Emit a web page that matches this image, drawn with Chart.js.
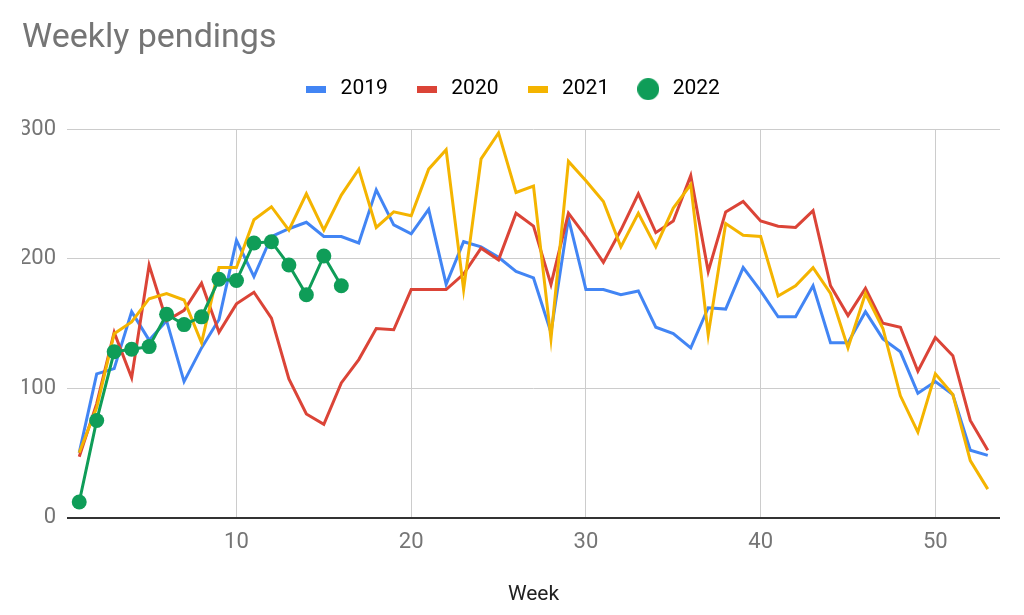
<!DOCTYPE html>
<html>
<head>
<meta charset="utf-8">
<title>Weekly pendings</title>
<script src="https://cdn.jsdelivr.net/npm/chart.js@4.4.0/dist/chart.umd.min.js"></script>
<style>
  html, body { margin: 0; padding: 0; background: #fff; }
  #wrap { width: 1024px; height: 615px; }
</style>
</head>
<body>
<div id="wrap"><canvas id="chart" width="1024" height="615"></canvas></div>
<script>
// week numbers on the x axis
const weeks = [1, 2, 3, 4, 5, 6, 7, 8, 9, 10, 11, 12, 13, 14, 15, 16, 17, 18, 19, 20,
  21, 22, 23, 24, 25, 26, 27, 28, 29, 30, 31, 32, 33, 34, 35, 36, 37, 38, 39, 40,
  41, 42, 43, 44, 45, 46, 47, 48, 49, 50, 51, 52, 53];

// values
const pend2019 = [50, 111, 115, 159, 137, 152, 105, 131, 153, 214, 186, 217, 223, 228, 217, 217, 212, 253, 226, 219,
  238, 180, 213, 209, 201, 190, 185, 143, 231, 176, 176, 172, 175, 147, 142, 131, 162, 161, 193, 175,
  155, 155, 179, 135, 135, 159, 138, 128, 96, 105, 95, 52, 48];
const pend2020 = [47, 88, 143, 108, 195, 152, 160, 181, 143, 165, 174, 154, 107, 80, 72, 104, 122, 146, 145, 176,
  176, 176, 188, 208, 199, 235, 225, 180, 235, 217, 197, 222, 250, 220, 229, 264, 190, 236, 244, 229,
  225, 224, 237, 179, 156, 177, 150, 147, 113, 139, 125, 75, 52];
const pend2021 = [50, 85, 142, 151, 169, 173, 168, 135, 193, 193, 230, 240, 222, 250, 222, 249, 269, 224, 236, 233,
  269, 284, 176, 277, 297, 251, 256, 138, 275, 260, 244, 209, 235, 209, 239, 257, 141, 227, 218, 217,
  171, 179, 193, 173, 131, 173, 146, 94, 66, 111, 95, 44, 22];
const pend2022 = [12, 75, 128, 130, 132, 157, 149, 155, 184, 183, 212, 213, 195, 172, 202, 179];

const xTicks = [10, 20, 30, 40, 50];
const yTicks = [0, 100, 200, 300];

const colors = { 2019: '#4285F4', 2020: '#DB4437', 2021: '#F4B400', 2022: '#0F9D58' };

const toPoints = (vals) => vals.map((v, i) => ({ x: weeks[i], y: v }));

// little marker images for the legend (bars for lines, dot for 2022)
const makeMarker = (color, dot) => {
  const c = document.createElement('canvas');
  if (dot) {
    c.width = 22; c.height = 22;
    const g = c.getContext('2d');
    g.fillStyle = color;
    g.beginPath();
    g.arc(11, 11, 11, 0, Math.PI * 2);
    g.fill();
  } else {
    c.width = 20; c.height = 7;
    const g = c.getContext('2d');
    g.fillStyle = color;
    g.fillRect(0, 0, 20, 7);
  }
  return c;
};

const tickFont = { family: 'Roboto', size: 22 };

new Chart(document.getElementById('chart'), {
  type: 'line',
  data: {
    datasets: [
      { label: '2019', data: toPoints(pend2019), borderColor: colors[2019], borderWidth: 3, pointRadius: 0, order: 4 },
      { label: '2020', data: toPoints(pend2020), borderColor: colors[2020], borderWidth: 3, pointRadius: 0, order: 3 },
      { label: '2021', data: toPoints(pend2021), borderColor: colors[2021], borderWidth: 3, pointRadius: 0, order: 2 },
      { label: '2022', data: toPoints(pend2022), borderColor: colors[2022], backgroundColor: colors[2022], borderWidth: 3,
        pointRadius: 7.5, pointBorderWidth: 0, pointBackgroundColor: colors[2022], order: 1 }
    ]
  },
  options: {
    responsive: false,
    animation: false,
    events: [],
    layout: { padding: { left: 22, right: 24, top: 0, bottom: 7.5 } },
    plugins: {
      title: {
        display: true,
        text: 'Weekly pendings',
        align: 'start',
        color: '#757575',
        font: { family: 'Roboto', size: 34, weight: 'normal', lineHeight: 0.9 },
        padding: { top: 23, bottom: 0 }
      },
      legend: {
        labels: {
          usePointStyle: true,
          pointStyleWidth: 28,
          boxHeight: 21,
          padding: 25,
          color: '#666',
          font: { family: 'Roboto', size: 21 },
          generateLabels: (chart) => chart.data.datasets.map((ds, i) => ({
            text: ds.label,
            pointStyle: makeMarker(ds.borderColor, i === 3),
            fillStyle: ds.borderColor,
            strokeStyle: ds.borderColor,
            lineWidth: 0,
            hidden: false,
            datasetIndex: i
          }))
        }
      },
      tooltip: { enabled: false }
    },
    scales: {
      x: {
        type: 'linear',
        min: 0.3,
        max: 53.7,
        afterBuildTicks: (axis) => { axis.ticks = xTicks.map((v) => ({ value: v })); },
        grid: { color: '#ccc', drawTicks: false },
        border: { display: false },
        ticks: { padding: 12, color: '#757575', font: tickFont },
        title: { display: true, text: 'Week', color: '#222', font: { family: 'Roboto', size: 21 }, padding: { top: 14.3, bottom: 0 } }
      },
      // empty top axis, only keeps the gap between legend and plot
      gap: {
        type: 'linear',
        position: 'top',
        display: true,
        grid: { display: false },
        border: { display: false },
        ticks: { display: false },
        afterFit: (scale) => { scale.height = 19.4; }
      },
      y: {
        min: 0,
        max: 300,
        afterBuildTicks: (axis) => { axis.ticks = yTicks.map((v) => ({ value: v })); },
        afterFit: (scale) => { scale.width = 45; },
        grid: {
          color: (ctx) => (ctx.tick && ctx.tick.value === 0 ? '#333' : '#ccc'),
          lineWidth: (ctx) => (ctx.tick && ctx.tick.value === 0 ? 2 : 1),
          drawTicks: false
        },
        border: { display: false },
        ticks: { padding: 11, color: '#757575', font: tickFont }
      }
    }
  }
});
</script>
</body>
</html>
